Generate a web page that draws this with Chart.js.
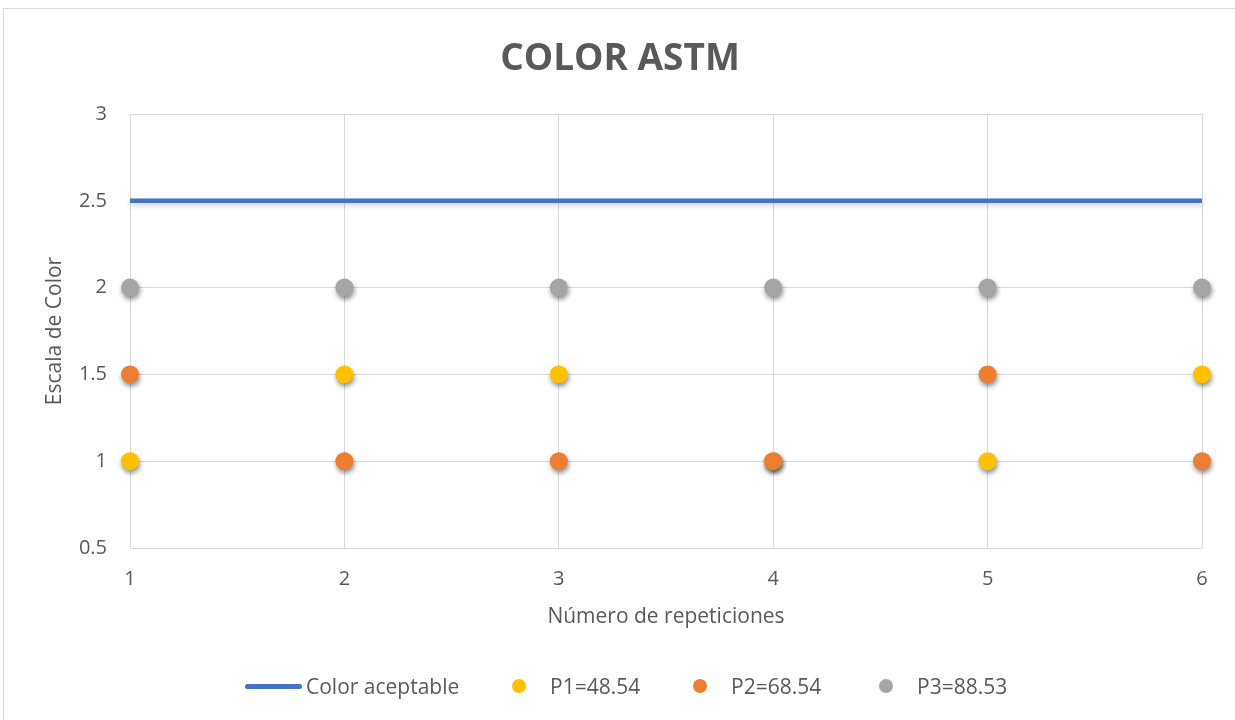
<!DOCTYPE html>
<html>
<head>
<meta charset="utf-8">
<script src="https://cdn.jsdelivr.net/npm/chart.js@4/dist/chart.umd.min.js"></script>
<style>
  html, body { margin: 0; padding: 0; background: #fff; }
  #wrap { position: relative; width: 1235px; height: 720px; overflow: hidden; font-family: "Open Sans", "Liberation Sans", sans-serif; }
  #frame { position: absolute; left: 3px; top: 8px; right: -10px; bottom: -10px; border: 1px solid #d9d9d9; }
  #c { position: absolute; left: 0; top: 0; }
  #title { position: absolute; left: 0; width: 1240px; top: 32px; text-align: center; font-size: 37px; font-weight: bold; color: #595959; line-height: 48px; }
  #legend { position: absolute; top: 672px; left: 0; height: 28px; width: 1235px; }
  .item { position: absolute; top: 0; height: 28px; display: flex; align-items: center; font-size: 21px; color: #595959; }
  .swline { width: 57px; height: 5px; border-radius: 3px; margin-right: 4px; }
  .swdot { width: 14px; height: 14px; border-radius: 50%; margin-right: 24px; }
</style>
</head>
<body>
<div id="wrap">
  <div id="frame"></div>
  <canvas id="c" width="1235" height="720"></canvas>
  <div id="title"></div>
  <div id="legend"></div>
</div>
<script>
// Repeticiones y escala de color por muestra
const repeticiones = [1, 2, 3, 4, 5, 6];
const colorAceptable = [2.5, 2.5, 2.5, 2.5, 2.5, 2.5];
const p1 = [1, 1.5, 1.5, 1, 1, 1.5];
const p2 = [1.5, 1, 1, 1, 1.5, 1];
const p3 = [2, 2, 2, 2, 2, 2];
const seriesNames = ['Color aceptable', 'P1=48.54', 'P2=68.54', 'P3=88.53'];
const seriesColors = ['#4472C4', '#FFC000', '#ED7D31', '#A5A5A5'];
const yTicks = [0.5, 1, 1.5, 2, 2.5, 3];
const chartTitle = 'COLOR ASTM';
const xTitle = 'Número de repeticiones';
const yTitle = 'Escala de Color';

const toPoints = vals => repeticiones.map((r, i) => ({ x: r, y: vals[i] }));

document.getElementById('title').textContent = chartTitle;

// Soft drop shadow under every dataset
const shadowPlugin = {
  id: 'shadow',
  beforeDatasetDraw(chart, args) {
    const ctx = chart.ctx;
    ctx.save();
    if (args.index === 0) {
      ctx.shadowColor = 'rgba(0,0,0,0.18)';
      ctx.shadowBlur = 5;
      ctx.shadowOffsetY = 3;
    } else {
      ctx.shadowColor = 'rgba(0,0,0,0.45)';
      ctx.shadowBlur = 5;
      ctx.shadowOffsetX = 1;
      ctx.shadowOffsetY = 3;
    }
  },
  afterDatasetDraw(chart) {
    chart.ctx.restore();
  }
};

const family = '"Open Sans", "Liberation Sans", sans-serif';
const tickFont = { family: family, size: 20 };
const titleFont = { family: family, size: 21 };
const dotStyle = (i, order) => ({
  label: seriesNames[i],
  data: toPoints([null, p1, p2, p3][i]),
  backgroundColor: seriesColors[i],
  borderColor: seriesColors[i],
  borderWidth: 0,
  pointRadius: 9,
  pointHoverRadius: 9,
  showLine: false,
  clip: false,
  order: order
});

new Chart(document.getElementById('c'), {
  type: 'scatter',
  data: {
    datasets: [
      {
        label: seriesNames[0],
        data: toPoints(colorAceptable),
        borderColor: seriesColors[0],
        backgroundColor: seriesColors[0],
        borderWidth: 4.5,
        pointRadius: 0,
        showLine: true,
        clip: false,
        order: 5
      },
      dotStyle(1, 3),
      dotStyle(2, 2),
      dotStyle(3, 1)
    ]
  },
  options: {
    responsive: false,
    animation: false,
    layout: { padding: { top: 114, right: 33, bottom: 90, left: 0 } },
    plugins: {
      legend: { display: false },
      title: { display: false },
      tooltip: { enabled: false }
    },
    scales: {
      x: {
        type: 'linear',
        min: 1,
        max: 6,
        afterFit(scale) { scale.height = 82; },
        ticks: { stepSize: 1, padding: 19, color: '#595959', font: tickFont },
        grid: { color: '#d9d9d9', lineWidth: 1, drawTicks: false },
        border: { display: false },
        title: { display: true, text: xTitle, color: '#595959', font: titleFont, padding: { top: 4, bottom: 0 } }
      },
      y: {
        type: 'linear',
        min: 0.5,
        max: 3,
        afterFit(scale) { scale.width = 130; },
        afterBuildTicks(scale) { scale.ticks = yTicks.map(v => ({ value: v })); },
        ticks: { padding: 23, color: '#595959', font: tickFont, callback: v => String(v) },
        grid: { color: '#d9d9d9', lineWidth: 1, drawTicks: false },
        border: { display: false },
        title: { display: true, text: yTitle, color: '#595959', font: titleFont, padding: { top: 42, bottom: 0 } }
      }
    }
  },
  plugins: [shadowPlugin]
});

// Legend row
const legendPos = [[245, 'line'], [512, 'dot'], [693, 'dot'], [879, 'dot']];
const legend = document.getElementById('legend');
seriesNames.forEach((name, i) => {
  const item = document.createElement('div');
  item.className = 'item';
  item.style.left = legendPos[i][0] + 'px';
  const sw = document.createElement('span');
  sw.className = legendPos[i][1] === 'line' ? 'swline' : 'swdot';
  sw.style.background = seriesColors[i];
  const tx = document.createElement('span');
  tx.textContent = name;
  item.appendChild(sw);
  item.appendChild(tx);
  legend.appendChild(item);
});
</script>
</body>
</html>
